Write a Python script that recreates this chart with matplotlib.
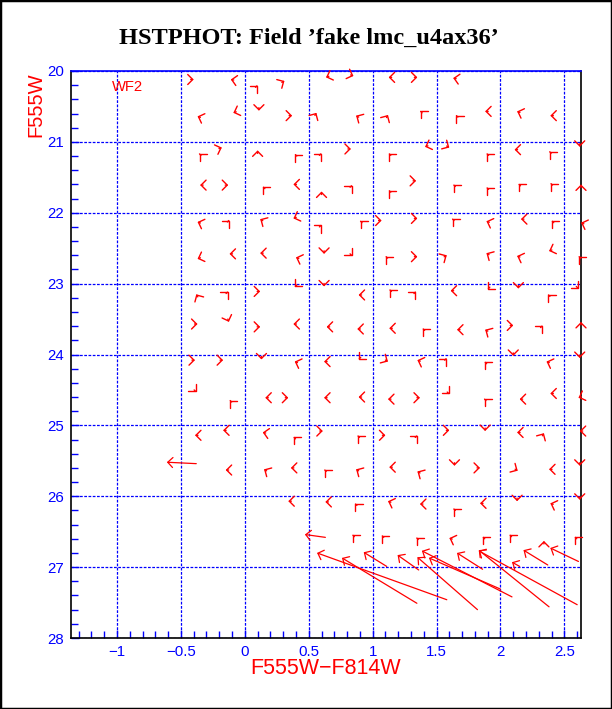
import numpy as np
import matplotlib
matplotlib.use("Agg")
import matplotlib.pyplot as plt
from matplotlib.ticker import MultipleLocator, FuncFormatter
from matplotlib.patches import Rectangle

# Положение на върха на малките стрелки (цвят, величина) и посока на стрелката (градуси, 0 = надясно)
tip_x = [
    -0.40, -0.11, 0.10, 0.31, 0.635, 0.85, 1.125, 1.35, 1.63,
    -0.37, -0.09, 0.11, 0.37, 0.56, 0.87, 1.12, 1.37, 1.65, 1.88, 2.13, 2.39,
    -0.36, -0.18, 0.10, 0.39, 0.60, 0.83, 1.125, 1.41, 1.60, 1.89, 2.11, 2.38, 2.62,
    -0.35, -0.13, 0.14, 0.38, 0.60, 0.84, 1.125, 1.34, 1.63, 1.89, 2.14, 2.39, 2.63,
    -0.37, -0.12, 0.12, 0.38, 0.60, 0.90, 1.07, 1.35, 1.62, 1.89, 2.16, 2.40, 2.63,
    -0.37, -0.12, 0.12, 0.40, 0.62, 0.84, 1.10, 1.35, 1.58, 1.89, 2.13, 2.38, 2.61,
    -0.38, -0.13, 0.12, 0.39, 0.62, 0.89, 1.13, 1.34, 1.61, 1.90, 2.14, 2.37, 2.61,
    -0.37, -0.125, 0.12, 0.38, 0.64, 0.88, 1.13, 1.39, 1.66, 1.88, 2.10, 2.33, 2.63,
    -0.39, -0.17, 0.13, 0.39, 0.62, 0.89, 1.12, 1.35, 1.58, 1.875, 2.10, 2.36, 2.62,
    -0.38, -0.12, 0.16, 0.34, 0.62, 0.89, 1.12, 1.37, 1.60, 1.87, 2.15, 2.39, 2.61,
    -0.39, -0.17, 0.14, 0.38, 0.61, 0.88, 1.10, 1.35, 1.60, 1.88, 2.13, 2.34, 2.62,
    -0.15, 0.15, 0.36, 0.62, 0.87, 1.13, 1.35, 1.64, 1.84, 2.135, 2.38, 2.62,
    0.34, 0.63, 0.86, 1.12, 1.37, 1.63, 1.84, 2.13, 2.39, 2.62,
    0.84, 1.07, 1.34, 1.60, 1.86, 2.07, 2.34, 2.58,
]
tip_y = [
    20.12, 20.12, 20.20, 20.14, 20.09, 20.07, 20.09, 20.09, 20.10,
    20.64, 20.59, 20.56, 20.63, 20.59, 20.63, 20.62, 20.56, 20.62, 20.57, 20.57, 20.63,
    21.16, 21.08, 21.12, 21.17, 21.16, 21.10, 21.16, 21.07, 21.08, 21.16, 21.11, 21.13, 21.07,
    21.61, 21.61, 21.63, 21.60, 21.70, 21.61, 21.68, 21.55, 21.60, 21.64, 21.59, 21.58, 21.60,
    22.13, 22.10, 22.09, 22.08, 22.17, 22.11, 22.11, 22.08, 22.08, 22.12, 22.09, 22.11, 22.14,
    22.65, 22.58, 22.57, 22.63, 22.58, 22.61, 22.61, 22.62, 22.60, 22.57, 22.61, 22.54, 22.61,
    23.15, 23.11, 23.11, 23.05, 23.04, 23.16, 23.08, 23.11, 23.10, 23.08, 23.07, 23.15, 23.07,
    23.57, 23.54, 23.61, 23.57, 23.61, 23.64, 23.63, 23.63, 23.65, 23.65, 23.59, 23.59, 23.54,
    24.08, 24.08, 24.07, 24.10, 24.10, 24.07, 24.10, 24.08, 24.05, 24.10, 24.02, 24.10, 24.05,
    24.53, 24.64, 24.61, 24.61, 24.61, 24.60, 24.63, 24.61, 24.56, 24.62, 24.63, 24.55, 24.61,
    25.14, 25.07, 25.10, 25.16, 25.08, 25.14, 25.14, 25.14, 25.07, 25.08, 25.10, 25.11, 25.08,
    25.63, 25.62, 25.60, 25.62, 25.62, 25.59, 25.65, 25.57, 25.60, 25.64, 25.62, 25.57,
    26.07, 26.08, 26.10, 26.07, 26.11, 26.17, 26.10, 26.07, 26.10, 26.05,
    26.54, 26.55, 26.58, 26.59, 26.57, 26.54, 26.63, 26.57,
]
head_dir = [
    0, 170, 45, 30, 200, 340, 180, 0, 170,
    160, 200, 270, 0, 60, 150, 60, 135, 135, 180, 160, 180,
    135, 20, 90, 135, 45, 0, 135, 200, 330, 135, 180, 135, 270,
    180, 0, 135, 180, 90, 45, 135, 0, 135, 135, 135, 135, 90,
    160, 45, 150, 200, 45, 135, 0, 0, 135, 160, 180, 135, 160,
    200, 180, 180, 160, 270, 315, 135, 0, 30, 150, 160, 200, 135,
    120, 45, 0, 225, 270, 180, 135, 45, 180, 225, 270, 135, 315,
    0, 290, 0, 180, 180, 180, 180, 135, 180, 150, 0, 45, 90,
    0, 0, 270, 160, 180, 225, 330, 160, 45, 135, 270, 160, 270,
    315, 135, 180, 0, 180, 180, 180, 0, 315, 135, 180, 180, 200,
    180, 180, 170, 135, 0, 135, 0, 45, 0, 270, 180, 60, 180,
    180, 150, 180, 135, 150, 180, 150, 270, 0, 330, 180, 270,
    180, 180, 135, 160, 180, 135, 180, 270, 160, 270,
    135, 135, 135, 160, 135, 135, 90, 135,
]

# Дългите стрелки: начало (опашка) и край (връх)
long_x0 = [-0.38, 0.63, 1.58, 1.346, 1.11, 1.36, 1.82, 2.09, 2.00, 1.86, 2.38, 2.60, 2.15, 2.37, 2.61]
long_y0 = [25.54, 26.58, 27.46, 27.51, 26.99, 27.04, 27.60, 27.42, 27.31, 27.03, 27.56, 27.53, 26.99, 26.97, 26.92]
long_x1 = [-0.61, 0.47, 0.565, 0.76, 0.93, 1.195, 1.35, 1.385, 1.44, 1.66, 1.83, 1.83, 2.09, 2.18, 2.39]
long_y1 = [25.52, 26.54, 26.80, 26.87, 26.79, 26.83, 26.86, 26.77, 26.87, 26.80, 26.76, 26.77, 26.93, 26.76, 26.73]

blue = "#0000ff"
red = "#ff0000"
sans = "Liberation Sans"

fig = plt.figure(figsize=(6.12, 7.09), dpi=100)
ax = fig.add_axes([71 / 612, 1 - 638 / 709, 510 / 612, 567 / 709])
ax.set_xlim(-1.36, 2.63)
ax.set_ylim(28, 20)

ax.xaxis.set_major_locator(MultipleLocator(0.5))
ax.xaxis.set_minor_locator(MultipleLocator(0.1))
ax.yaxis.set_major_locator(MultipleLocator(1))
ax.yaxis.set_minor_locator(MultipleLocator(0.2))
ax.xaxis.set_major_formatter(FuncFormatter(lambda v, p: f"{v:g}".replace("-", "\u2212")))
ax.yaxis.set_major_formatter(FuncFormatter(lambda v, p: f"{v:g}"))

ax.tick_params(which="both", direction="in", colors=blue, top=False, right=False)
ax.tick_params(which="major", length=6, width=1, labelsize=10.8, pad=5)
ax.tick_params(which="minor", length=5, width=1)
for lab in ax.get_xticklabels() + ax.get_yticklabels():
    lab.set_fontfamily(sans)

ax.grid(True, which="major", color=blue, linestyle=(0, (2.2, 1.2)), linewidth=0.9)
ax.set_axisbelow(True)

for side in ["left", "bottom", "right"]:
    ax.spines[side].set_color("black")
    ax.spines[side].set_linewidth(1.2)
ax.spines["top"].set_color(blue)
ax.spines["top"].set_linewidth(1.2)

fig.text(326 / 612, 1 - 668 / 709, "F555W\u2212F814W", color=red, fontsize=15.5,
         fontfamily=sans, ha="center", va="center")
fig.text(36 / 612, 1 - 72 / 709, "F555W", color=red, fontsize=14.5, fontfamily=sans,
         rotation=90, ha="center", va="top")

ax.text(0.08, 0.972, "WF2", transform=ax.transAxes, color=red, fontsize=10.6,
        fontfamily=sans, ha="left", va="center")

fig.text(0.505, 1 - 38 / 709, "HSTPHOT: Field \u2019fake lmc_u4ax36\u2019",
         fontfamily="Liberation Serif", fontweight="bold", fontsize=17.5,
         ha="center", va="center")

style = "->,head_length=0.36,head_width=0.36"

# малки стрелки: опашка на 3 пиксела зад върха
tips = np.column_stack([tip_x, tip_y])
ang = np.radians(head_dir)
tip_disp = ax.transData.transform(tips)
tail_disp = tip_disp - 3.0 * np.column_stack([np.cos(ang), np.sin(ang)])
tails = ax.transData.inverted().transform(tail_disp)
for (x1, y1), (x0, y0) in zip(tips, tails):
    ax.annotate("", xy=(x1, y1), xytext=(x0, y0),
                arrowprops=dict(arrowstyle=style, color=red, lw=1.0,
                                shrinkA=0, shrinkB=0))

for x0, y0, x1, y1 in zip(long_x0, long_y0, long_x1, long_y1):
    ax.annotate("", xy=(x1, y1), xytext=(x0, y0),
                arrowprops=dict(arrowstyle=style, color=red, lw=0.9,
                                shrinkA=0, shrinkB=0))

fig.add_artist(Rectangle((0, 0), 1, 1, transform=fig.transFigure, fill=False,
                         edgecolor="black", linewidth=2.5))

fig.savefig("out.png", dpi=100)
